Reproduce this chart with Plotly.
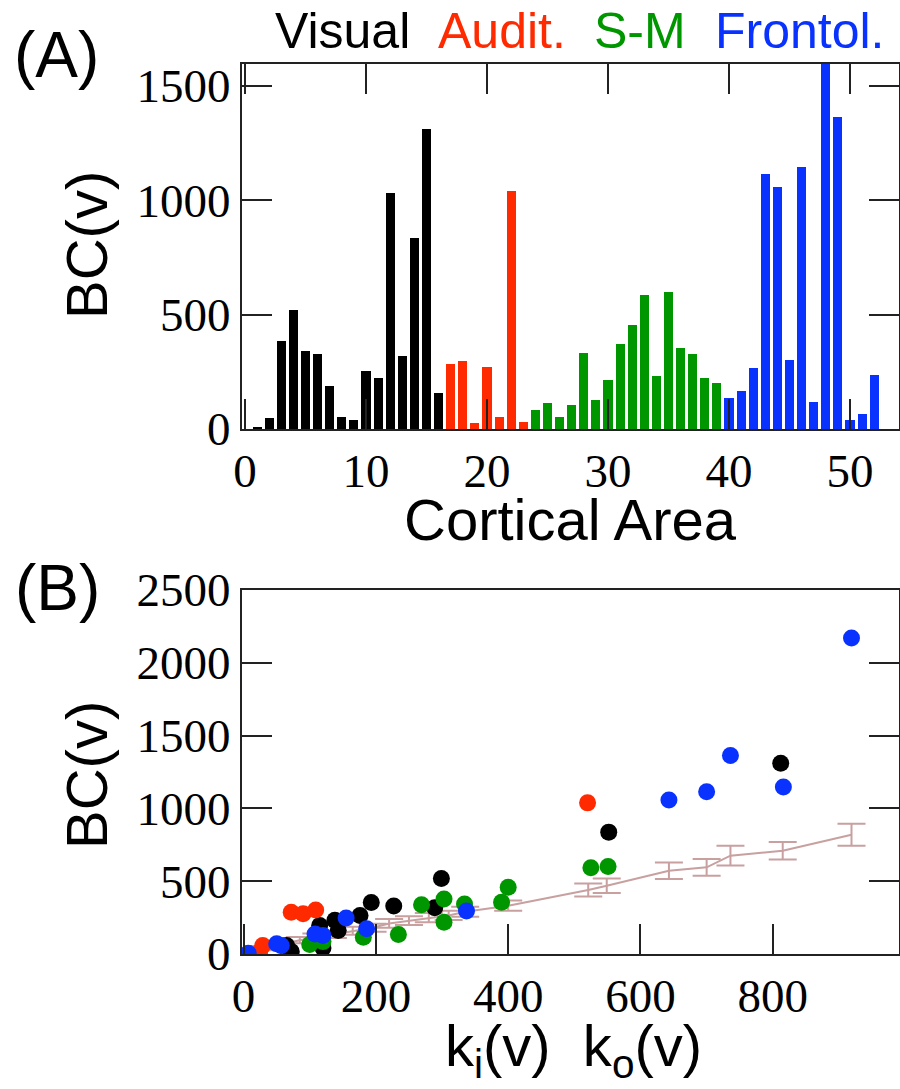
import plotly.graph_objects as go

# ---------------- Panel A data (betweenness per cortical area) ----------------
areas_visual = list(range(1, 17))
bc_visual = [10, 47, 385, 518, 342, 326, 187, 54, 39, 253, 223, 1032, 320, 834, 1311, 159]
areas_audit = list(range(17, 24))
bc_audit = [283, 296, 25, 269, 54, 1039, 32]
areas_sm = list(range(24, 40))
bc_sm = [85, 114, 54, 107, 334, 128, 216, 371, 453, 584, 231, 599, 356, 326, 223, 201]
areas_front = list(range(40, 53))
bc_front = [135, 164, 266, 1116, 1056, 303, 1145, 120, 1600, 1365, 40, 67, 237]

# ---------------- Panel B data (BC vs degree) ----------------
k_visual = [812, 552, 299, 193, 227, 289, 176, 143, 138, 115, 120, 65, 72]
b_visual = [1310, 837, 518, 353, 330, 318, 264, 161, 232, 195, 42, 58, 17]
k_audit = [520, 72, 90, 109, 29, 24]
b_audit = [1038, 286, 276, 302, 58, 12]
k_sm = [525, 551, 400, 390, 334, 269, 303, 303, 234, 181, 100, 120]
b_sm = [592, 601, 458, 355, 344, 339, 378, 218, 134, 115, 65, 85]
k_front = [919, 736, 816, 700, 643, 337, 155, 186, 108, 120, 50, 57, 7]
b_front = [2170, 1364, 1147, 1115, 1058, 296, 248, 173, 138, 127, 70, 58, 5]

# binned average with error bars
k_avg = [5, 30, 55, 85, 110, 135, 165, 195, 220, 250, 280, 310, 335, 400, 521, 549, 643, 700, 736, 815, 919]
b_avg = [10, 40, 65, 95, 115, 135, 160, 180, 210, 230, 250, 265, 290, 332, 440, 469, 572, 595, 675, 709, 819]
b_err = [8, 15, 20, 22, 25, 25, 28, 28, 30, 30, 32, 32, 35, 35, 45, 50, 57, 57, 68, 60, 75]

C_BLACK = "#000000"
C_RED = "#ff2a00"
C_GREEN = "#009600"
C_BLUE = "#0a32ff"
C_AVG = "#c8a0a0"

fig = go.Figure()

for xs, ys, c in [(areas_visual, bc_visual, C_BLACK), (areas_audit, bc_audit, C_RED),
                  (areas_sm, bc_sm, C_GREEN), (areas_front, bc_front, C_BLUE)]:
    fig.add_trace(go.Bar(x=xs, y=ys, marker=dict(color=c, line=dict(width=0)),
                         width=0.75, xaxis="x", yaxis="y", showlegend=False))

fig.add_trace(go.Scatter(x=k_avg, y=b_avg, mode="lines",
                         line=dict(color=C_AVG, width=2),
                         error_y=dict(type="data", array=b_err, color=C_AVG, thickness=2, width=14),
                         xaxis="x2", yaxis="y2", showlegend=False))

for xs, ys, c in [(k_visual, b_visual, C_BLACK), (k_audit, b_audit, C_RED),
                  (k_sm, b_sm, C_GREEN), (k_front, b_front, C_BLUE)]:
    fig.add_trace(go.Scatter(x=xs, y=ys, mode="markers",
                             marker=dict(color=c, size=17, line=dict(width=0)),
                             xaxis="x2", yaxis="y2", showlegend=False))

W, H = 900, 1089
tickfont = dict(family="Liberation Serif", size=47, color="black")
axcommon = dict(showline=True, linecolor="#222", linewidth=2, ticks="inside", ticklen=30,
                tickwidth=1.8, tickcolor="#222", showgrid=False, zeroline=False, tickfont=tickfont,
                automargin=False)

XDOM = [242 / W, 899 / W]
fig.update_layout(
    width=W, height=H, margin=dict(l=0, r=0, t=0, b=0, pad=0), autosize=False,
    paper_bgcolor="white", plot_bgcolor="white", bargap=0,
    xaxis=dict(domain=XDOM, range=[-0.25, 54.05], tickvals=[0, 10, 20, 30, 40, 50],
               mirror="ticks", anchor="y", **axcommon),
    yaxis=dict(domain=[1 - 429 / H, 1 - 64 / H], range=[0, 1595], tickvals=[0, 500, 1000, 1500],
               mirror="ticks", anchor="x", **axcommon),
    xaxis2=dict(domain=XDOM, range=[-2.4, 990.8], tickvals=[0, 200, 400, 600, 800],
                mirror=True, anchor="y2", **axcommon),
    yaxis2=dict(domain=[1 - 954 / H, 1 - 590 / H], range=[0, 2500],
                tickvals=[0, 500, 1000, 1500, 2000, 2500], mirror="ticks", anchor="x2", **axcommon),
)

sans = "Liberation Sans"


def ann(text, px, py, size, color="black", angle=0):
    fig.add_annotation(text=text, x=px / W, y=1 - py / H, xref="paper", yref="paper",
                       showarrow=False, xanchor="center", yanchor="middle", textangle=angle,
                       font=dict(family=sans, size=size, color=color))


ann("(A)", 56, 55, 64)
ann("(B)", 57, 588, 64)
ann("Visual", 342, 31, 50, C_BLACK)
ann("Audit.", 502, 31, 50, C_RED)
ann("S-M", 640, 31, 50, C_GREEN)
ann("Frontol.", 800, 31, 50, C_BLUE)
ann("BC(v)", 86, 245, 58, angle=-90)
ann("Cortical Area", 570, 519, 58)
ann("BC(v)", 86, 775, 58, angle=-90)
ann("k<sub>i</sub>(v)  k<sub>o</sub>(v)", 573, 1050, 58)

fig.write_html("out.html")
